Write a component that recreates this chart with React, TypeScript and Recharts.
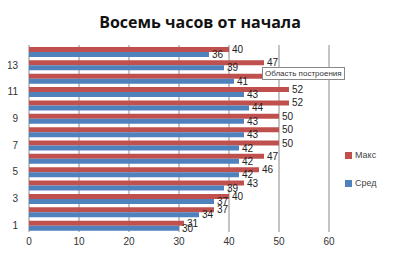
import React from "react";
import { BarChart, Bar, XAxis, YAxis, CartesianGrid, LabelList } from "recharts";

const categories = ["1", "2", "3", "4", "5", "6", "7", "8", "9", "10", "11", "12", "13", "14"];
const maxValues = [31, 37, 40, 43, 46, 47, 50, 50, 50, 52, 52, 47, 47, 40];
const avgValues = [30, 34, 37, 39, 42, 42, 42, 43, 43, 44, 43, 41, 39, 36];
const xTicks = [0, 10, 20, 30, 40, 50, 60];
const seriesNames = ["Макс", "Сред"];
const colors = ["#C0504D", "#4F81BD"];

const data = categories.map((c, i) => ({ cat: c, max: maxValues[i], avg: avgValues[i] }));

const FONT = "'Liberation Sans', Arial, sans-serif";

export default function App() {
  return (
    <div style={{ position: "relative", width: 400, height: 260, margin: -8, background: "#fff", overflow: "hidden" }}>
      <div style={{ position: "absolute", left: 0, top: 0, width: 397, height: 257, border: "1px solid #c8c8c8", boxSizing: "border-box" }} />
      <div style={{ position: "absolute", left: 0, top: 11, width: 400, textAlign: "center", fontFamily: "'Open Sans', sans-serif", fontWeight: 700, fontSize: 16, color: "#111" }}>
        Восемь часов от начала
      </div>
      <BarChart
        width={400}
        height={260}
        data={data}
        layout="vertical"
        margin={{ top: 45, right: 71, left: 0, bottom: 8 }}
        barSize={5}
        barGap={0}
      >
        <CartesianGrid horizontal={false} vertical={true} stroke="#8a8a8a" />
        <XAxis
          type="number"
          domain={[0, 60]}
          ticks={xTicks}
          axisLine={false}
          tickLine={false}
          tickSize={0}
          tickMargin={6}
          height={20}
          tick={{ fontFamily: FONT, fontSize: 10, fill: "#333" }}
        />
        <YAxis
          type="category"
          dataKey="cat"
          reversed
          width={29}
          interval={1}
          axisLine={false}
          tickLine={false}
          tickSize={0}
          tickMargin={11}
          tick={{ fontFamily: FONT, fontSize: 10, fill: "#333" }}
        />
        <Bar dataKey="max" name={seriesNames[0]} fill={colors[0]} isAnimationActive={false}>
          <LabelList dataKey="max" position="right" offset={3} style={{ fontFamily: FONT, fontSize: 10, fill: "#222" }} />
        </Bar>
        <Bar dataKey="avg" name={seriesNames[1]} fill={colors[1]} isAnimationActive={false}>
          <LabelList dataKey="avg" position="right" offset={3} style={{ fontFamily: FONT, fontSize: 10, fill: "#222" }} />
        </Bar>
      </BarChart>
      <div style={{ position: "absolute", left: 345, top: 148, fontFamily: FONT, fontSize: 9, color: "#444" }}>
        {seriesNames.map((n, i) => (
          <div key={n} style={{ display: "flex", alignItems: "center", height: 14, marginBottom: i === 0 ? 14 : 0 }}>
            <span style={{ width: 7, height: 7, background: colors[i], display: "inline-block", marginRight: 3 }} />
            <span>{n}</span>
          </div>
        ))}
      </div>
      <div style={{ position: "absolute", left: 262, top: 67, padding: "1px 2px", background: "#fff", border: "1px solid #888", fontFamily: FONT, fontSize: 8, color: "#333", whiteSpace: "nowrap" }}>
        Область построения
      </div>
    </div>
  );
}
